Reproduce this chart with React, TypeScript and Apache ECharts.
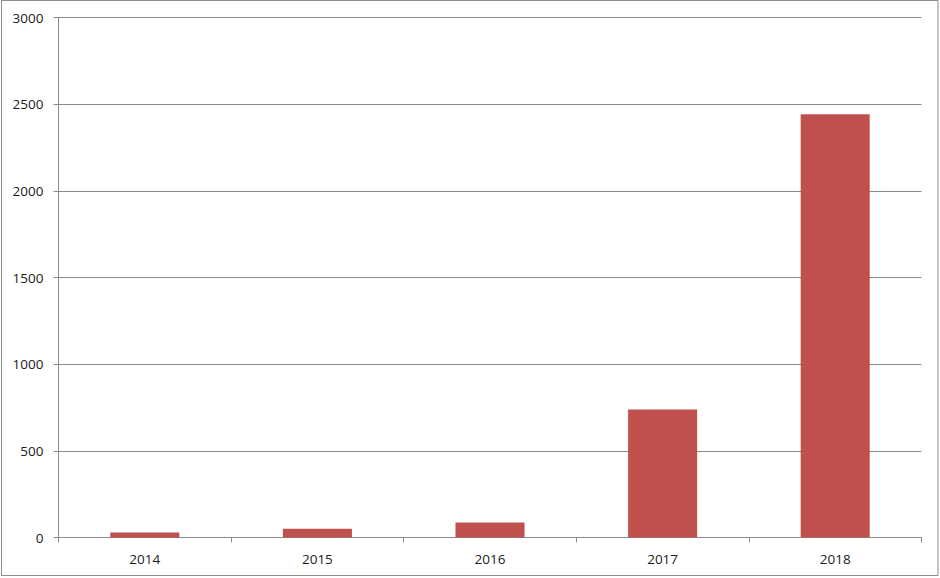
import React, { useEffect, useRef } from "react";
import * as echarts from "echarts";

const categories = ["2014", "2015", "2016", "2017", "2018"];
const values = [29, 50, 87, 739, 2442];
const yMin = 0;
const yMax = 3000;
const yInterval = 500;

export default function App() {
  const ref = useRef<HTMLDivElement>(null);
  useEffect(() => {
    if (!ref.current) return;
    const chart = echarts.init(ref.current, undefined, { renderer: "svg" });
    const gridColor = "#8a8a8a";
    const textStyle = { fontFamily: "Open Sans", fontSize: 13.5, color: "#1a1a1a" };
    chart.setOption({
      animation: false,
      backgroundColor: "#ffffff",
      graphic: [
        {
          type: "rect",
          shape: { x: 1.5, y: 0.5, width: 936.5, height: 575 },
          style: { fill: "none", stroke: "#8c8c8c", lineWidth: 1 },
          silent: true,
        },
      ],
      grid: { left: 58.5, right: 18.5, top: 17.5, bottom: 40.5, containLabel: false },
      xAxis: {
        type: "category",
        data: categories,
        axisLine: { show: true, lineStyle: { color: gridColor, width: 1 } },
        axisTick: { show: true, length: 5, alignWithLabel: false, lineStyle: { color: gridColor } },
        axisLabel: { ...textStyle, margin: 14 },
        splitLine: { show: false },
      },
      yAxis: {
        type: "value",
        min: yMin,
        max: yMax,
        interval: yInterval,
        axisLine: { show: true, lineStyle: { color: gridColor, width: 1 } },
        axisTick: { show: true, length: 5, lineStyle: { color: gridColor } },
        axisLabel: { ...textStyle, margin: 15, formatter: (v: number) => String(v) },
        splitLine: { show: true, lineStyle: { color: gridColor, width: 1 } },
      },
      series: [
        {
          type: "bar",
          data: values,
          barCategoryGap: "60%",
          itemStyle: { color: "#C0504D" },
        },
      ],
    });
    return () => chart.dispose();
  }, []);
  return (
    <div
      ref={ref}
      style={{ position: "fixed", left: 0, top: 0, width: 940, height: 578 }}
    />
  );
}
